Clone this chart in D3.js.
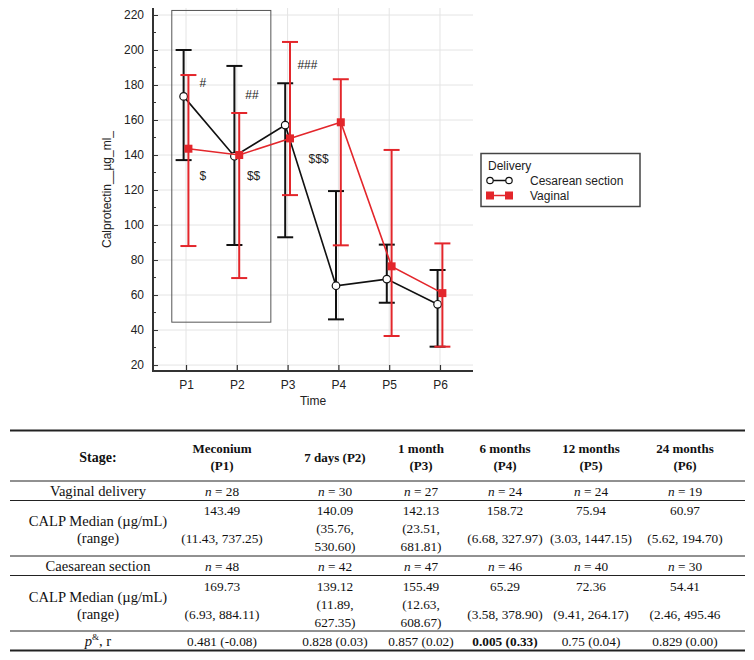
<!DOCTYPE html>
<html>
<head>
<meta charset="utf-8">
<script src="https://cdn.jsdelivr.net/npm/d3@7"></script>
<style>
  html, body { margin: 0; padding: 0; background: #fff; }
  svg { display: block; }
</style>
</head>
<body>
<div id="chart"></div>
<script>
// ---------------- DATA ----------------
const categories = ["P1", "P2", "P3", "P4", "P5", "P6"];
const yTicks = [20, 40, 60, 80, 100, 120, 140, 160, 180, 200, 220];

const cesMean = [173.5, 139.3, 157.1, 65.3, 69.1, 54.7];
const cesLow  = [137.1, 88.6, 93.0, 46.1, 55.6, 30.5];
const cesHigh = [200.0, 190.9, 181.0, 119.4, 88.8, 74.3];

const vagMean = [143.6, 140.0, 149.5, 158.7, 76.4, 61.1];
const vagLow  = [88.0, 69.7, 117.1, 88.4, 36.6, 30.5];
const vagHigh = [185.7, 164.0, 204.6, 183.3, 142.9, 89.5];

const seriesNames = ["Cesarean section", "Vaginal"];
const legendTitle = "Delivery";
const yLabel = "Calprotectin__µg_ml_";
const xLabel = "Time";

// significance marks: [text, category, offset in steps, value]
const marks = [
  ["#", "P1", 0.33, 181.1],
  ["##", "P2", 0.30, 174.3],
  ["###", "P3", 0.39, 191.4],
  ["$", "P1", 0.33, 128.2],
  ["$$", "P2", 0.33, 128.2],
  ["$$$", "P3", 0.61, 137.7]
];

// table
const headers = [["Stage:"], ["Meconium", "(P1)"], ["7 days (P2)"], ["1 month", "(P3)"],
                 ["6 months", "(P4)"], ["12 months", "(P5)"], ["24 months", "(P6)"]];
const vagN = [28, 30, 27, 24, 24, 19];
const vagMedian = ["143.49", "140.09", "142.13", "158.72", "75.94", "60.97"];
const vagRange = ["(11.43, 737.25)", "(35.76, 530.60)", "(23.51, 681.81)", "(6.68, 327.97)", "(3.03, 1447.15)", "(5.62, 194.70)"];
const cesN = [48, 42, 47, 46, 40, 30];
const cesMedian = ["169.73", "139.12", "155.49", "65.29", "72.36", "54.41"];
const cesRange = ["(6.93, 884.11)", "(11.89, 627.35)", "(12.63, 608.67)", "(3.58, 378.90)", "(9.41, 264.17)", "(2.46, 495.46"];
const rangeWrap = [false, true, true, false, false, false];
const pValues = ["0.481 (-0.08)", "0.828 (0.03)", "0.857 (0.02)", "0.005 (0.33)", "0.75 (0.04)", "0.829 (0.00)"];
const pBold = [false, false, false, true, false, false];

// ---------------- DRAW ----------------
const W = 754, H = 660;
const svg = d3.select("#chart").append("svg").attr("width", W).attr("height", H);

const sans = "'Liberation Sans', Arial, sans-serif";
const serif = "'Liberation Serif', 'Times New Roman', serif";
const RED = "#e3262b", BLK = "#111";

const x = d3.scalePoint().domain(categories).range([153, 473]).padding(0.65);
const step = x.step();
const y = d3.scaleLinear().domain([16.6, 224]).range([371, 8]);

const g = svg.append("g");

// grid
g.append("g").selectAll("line").data(yTicks).join("line")
  .attr("x1", 153).attr("x2", 473).attr("y1", d => y(d)).attr("y2", d => y(d))
  .attr("stroke", "#e4e4e4").attr("stroke-width", 1);
g.append("g").selectAll("line").data(categories).join("line")
  .attr("x1", d => x(d)).attr("x2", d => x(d)).attr("y1", 8).attr("y2", 371)
  .attr("stroke", "#e4e4e4").attr("stroke-width", 1);

// box annotation
g.append("rect")
  .attr("x", x("P1") - 0.28 * step).attr("y", y(222.6))
  .attr("width", (x("P2") + 0.67 * step) - (x("P1") - 0.28 * step))
  .attr("height", y(44.5) - y(222.6))
  .attr("fill", "none").attr("stroke", "#555").attr("stroke-width", 1);

// axes
const yAxis = d3.axisLeft(y).tickValues(yTicks).tickSize(-5).tickPadding(9);
const yAxisG = g.append("g").attr("transform", "translate(153,0)").call(yAxis);
yAxisG.select(".domain").remove();
yAxisG.selectAll("text").attr("font-family", sans).attr("font-size", 12).attr("fill", "#222");
yAxisG.selectAll("line").attr("stroke", "#333").attr("stroke-width", 1);
// minor ticks
const minor = d3.range(30, 221, 20);
g.append("g").selectAll("line").data(minor).join("line")
  .attr("x1", 153).attr("x2", 156).attr("y1", d => y(d)).attr("y2", d => y(d))
  .attr("stroke", "#333").attr("stroke-width", 1);

const xAxis = d3.axisBottom(x).tickSize(-6).tickPadding(9);
const xAxisG = g.append("g").attr("transform", "translate(0,371)").call(xAxis);
xAxisG.select(".domain").remove();
xAxisG.selectAll("text").attr("font-family", sans).attr("font-size", 12).attr("fill", "#222");
xAxisG.selectAll("line").attr("stroke", "#333").attr("stroke-width", 1.2);

g.append("line").attr("x1", 153).attr("x2", 153).attr("y1", 8).attr("y2", 372)
  .attr("stroke", "#333").attr("stroke-width", 2);
g.append("line").attr("x1", 152).attr("x2", 473).attr("y1", 371).attr("y2", 371)
  .attr("stroke", "#333").attr("stroke-width", 2);

// axis labels
g.append("text").attr("transform", `translate(107,${(8 + 371) / 2}) rotate(-90)`)
  .attr("text-anchor", "middle").attr("dominant-baseline", "central")
  .attr("font-family", sans).attr("font-size", 12).attr("fill", "#222").text(yLabel);
g.append("text").attr("x", (153 + 473) / 2).attr("y", 401)
  .attr("text-anchor", "middle").attr("dominant-baseline", "central")
  .attr("font-family", sans).attr("font-size", 12).attr("fill", "#222").text(xLabel);

// series
function drawSeries(mean, low, high, color, dx, shape) {
  const sg = g.append("g");
  const pts = categories.map((c, i) => ({ c, i, m: mean[i], lo: low[i], hi: high[i] }));
  // error bars
  sg.selectAll("line.eb").data(pts).join("line").attr("class", "eb")
    .attr("x1", d => x(d.c) + dx).attr("x2", d => x(d.c) + dx)
    .attr("y1", d => y(d.lo)).attr("y2", d => y(d.hi))
    .attr("stroke", color).attr("stroke-width", 2);
  ["lo", "hi"].forEach(k => {
    sg.selectAll("line.cap" + k).data(pts).join("line").attr("class", "cap" + k)
      .attr("x1", d => x(d.c) + dx - 8).attr("x2", d => x(d.c) + dx + 8)
      .attr("y1", d => y(d[k])).attr("y2", d => y(d[k]))
      .attr("stroke", color).attr("stroke-width", 2);
  });
  // line
  sg.append("path").datum(pts)
    .attr("d", d3.line().x(d => x(d.c) + dx).y(d => y(d.m)))
    .attr("fill", "none").attr("stroke", color).attr("stroke-width", 1.6);
  // markers
  if (shape === "circle") {
    sg.selectAll("circle").data(pts).join("circle")
      .attr("cx", d => x(d.c) + dx).attr("cy", d => y(d.m)).attr("r", 3.8)
      .attr("fill", "#fff").attr("stroke", color).attr("stroke-width", 1.2);
  } else {
    sg.selectAll("rect").data(pts).join("rect")
      .attr("x", d => x(d.c) + dx - 4).attr("y", d => y(d.m) - 4)
      .attr("width", 8).attr("height", 8).attr("fill", color);
  }
}
drawSeries(cesMean, cesLow, cesHigh, BLK, -2.4, "circle");
drawSeries(vagMean, vagLow, vagHigh, RED, 2.4, "square");

// significance marks
g.append("g").selectAll("text").data(marks).join("text")
  .attr("x", d => x(d[1]) + d[2] * step).attr("y", d => y(d[3]))
  .attr("text-anchor", "middle").attr("dominant-baseline", "central")
  .attr("font-family", sans).attr("font-size", 12).attr("fill", "#222")
  .text(d => d[0]);

// legend
const lg = svg.append("g");
lg.append("rect").attr("x", 481).attr("y", 153.5).attr("width", 159).attr("height", 53)
  .attr("fill", "#fff").attr("stroke", "#444").attr("stroke-width", 1.5);
lg.append("text").attr("x", 488).attr("y", 166).attr("dominant-baseline", "central")
  .attr("font-family", sans).attr("font-size", 12).attr("fill", "#222").text(legendTitle);
const legRows = [{ name: seriesNames[0], color: BLK, shape: "circle", yy: 180.5 },
                 { name: seriesNames[1], color: RED, shape: "square", yy: 195.5 }];
legRows.forEach(r => {
  lg.append("line").attr("x1", 490).attr("x2", 509).attr("y1", r.yy).attr("y2", r.yy)
    .attr("stroke", r.color).attr("stroke-width", 1.5);
  [490, 509].forEach(cx => {
    if (r.shape === "circle") {
      lg.append("circle").attr("cx", cx).attr("cy", r.yy).attr("r", 3.2)
        .attr("fill", "#fff").attr("stroke", r.color).attr("stroke-width", 1.2);
    } else {
      lg.append("rect").attr("x", cx - 4).attr("y", r.yy - 4).attr("width", 8).attr("height", 8)
        .attr("fill", r.color);
    }
  });
  lg.append("text").attr("x", 530).attr("y", r.yy).attr("dominant-baseline", "central")
    .attr("font-family", sans).attr("font-size", 12).attr("fill", "#222").text(r.name);
});

// ---------------- TABLE ----------------
const tb = svg.append("g").attr("font-family", serif).attr("font-size", 13.3).attr("fill", "#111");
const colX = [98, 222, 335, 421, 505, 591, 685];
const dataCols = colX.slice(1);
const TL = 10, TR = 745;
const LABEL_FS = 14.6;
function hline(yy, w) {
  tb.append("line").attr("x1", TL).attr("x2", TR).attr("y1", yy).attr("y2", yy)
    .attr("stroke", "#222").attr("stroke-width", w);
}
hline(430.5, 2); hline(481, 1); hline(500.5, 1); hline(556, 1); hline(575.5, 1); hline(631, 1); hline(650.5, 2.2);

function txt(xx, yy, s, opts = {}) {
  const t = tb.append("text").attr("x", xx).attr("y", yy)
    .attr("text-anchor", "middle").attr("dominant-baseline", "central");
  if (opts.bold) t.attr("font-weight", "bold");
  if (opts.italic) t.attr("font-style", "italic");
  if (opts.fs) t.attr("font-size", opts.fs);
  t.text(s);
  return t;
}

// header
headers.forEach((h, i) => {
  if (h.length === 1) txt(colX[i], 457, h[0], { bold: true, fs: i === 0 ? 14 : 13 });
  else { txt(colX[i], 448.5, h[0], { bold: true, fs: 13 }); txt(colX[i], 465.5, h[1], { bold: true, fs: 13 }); }
});

function nText(xx, yy, n) {
  const t = tb.append("text").attr("x", xx).attr("y", yy)
    .attr("text-anchor", "middle").attr("dominant-baseline", "central");
  t.append("tspan").attr("font-style", "italic").text("n");
  t.append("tspan").text(" = " + n);
}

function groupRows(label, nArr, medArr, rangeArr, nY, top) {
  txt(colX[0], nY, label, { fs: LABEL_FS });
  nArr.forEach((n, i) => nText(dataCols[i], nY, n));
  txt(colX[0], top + 11, "CALP Median (µg/mL)", { fs: LABEL_FS });
  txt(colX[0], top + 28, "(range)", { fs: LABEL_FS });
  medArr.forEach((m, i) => {
    txt(dataCols[i], top, m);
    if (rangeWrap[i]) {
      const parts = rangeArr[i].split(" ");
      txt(dataCols[i], top + 18, parts[0]);
      txt(dataCols[i], top + 36, parts[1]);
    } else {
      txt(dataCols[i], top + 28, rangeArr[i]);
    }
  });
}
groupRows("Vaginal delivery", vagN, vagMedian, vagRange, 491, 510);
groupRows("Caesarean section", cesN, cesMedian, cesRange, 566, 586);

// p row
const pt = tb.append("text").attr("x", colX[0]).attr("y", 641)
  .attr("text-anchor", "middle").attr("dominant-baseline", "central").attr("font-size", LABEL_FS);
pt.append("tspan").attr("font-style", "italic").text("p");
pt.append("tspan").attr("font-size", 9).attr("dy", -4).text("&");
pt.append("tspan").attr("dy", 4).text(", r");
pValues.forEach((p, i) => txt(dataCols[i], 641, p, { bold: pBold[i] }));
</script>
</body>
</html>
